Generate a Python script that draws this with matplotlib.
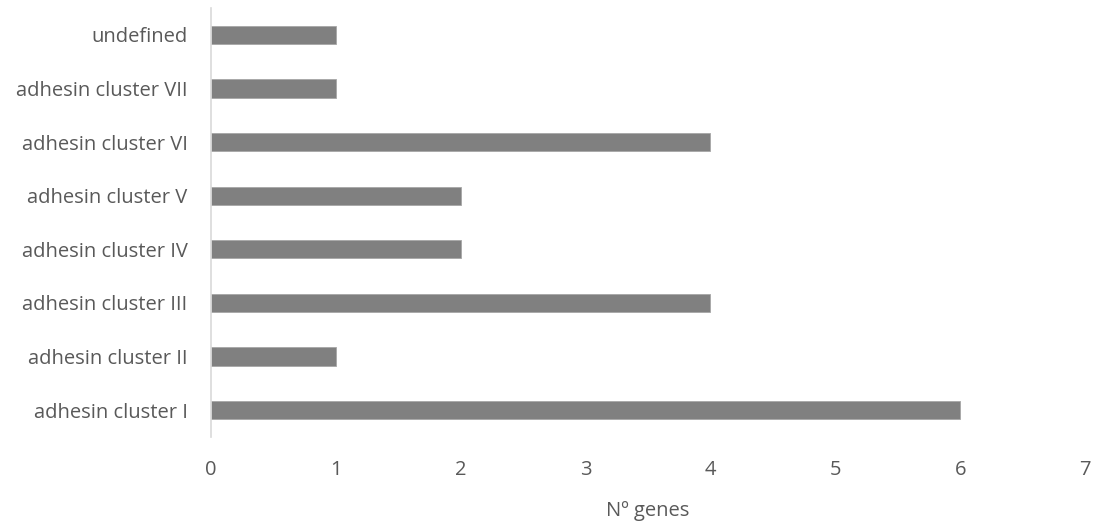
import matplotlib
matplotlib.use("Agg")
import matplotlib.pyplot as plt

categories = ["adhesin cluster I", "adhesin cluster II", "adhesin cluster III",
              "adhesin cluster IV", "adhesin cluster V", "adhesin cluster VI",
              "adhesin cluster VII", "undefined"]
gene_counts = [6, 1, 4, 2, 2, 4, 1, 1]
x_ticks = [0, 1, 2, 3, 4, 5, 6, 7]
x_label = "Nº genes"

plt.rcParams['font.family'] = ['Open Sans', 'DejaVu Sans']
text_color = "#595959"
font_size = 14.5

fig = plt.figure(figsize=(10.95, 5.21), dpi=100)
ax = fig.add_axes([0.1927, 0.1616, 0.7982, 0.8227])

y = range(len(categories))
ax.barh(y, gene_counts, height=0.34, color="#808080", edgecolor="#a6a6a6", linewidth=0.6)

ax.set_xlim(0, 7)
ax.set_ylim(-0.5, len(categories) - 0.5)
ax.set_xticks(x_ticks)
ax.set_xticklabels([str(t) for t in x_ticks])
ax.set_yticks(list(y))
ax.set_yticklabels(categories)

for side in ["top", "right", "bottom"]:
    ax.spines[side].set_visible(False)
ax.spines["left"].set_color("#d9d9d9")
ax.spines["left"].set_linewidth(1.2)

ax.tick_params(axis="both", length=0, colors=text_color, labelsize=font_size)
ax.tick_params(axis="x", pad=17)
ax.tick_params(axis="y", pad=17)
ax.set_xlabel(x_label, color=text_color, fontsize=font_size, labelpad=15)

fig.savefig("out.png", dpi=100)
